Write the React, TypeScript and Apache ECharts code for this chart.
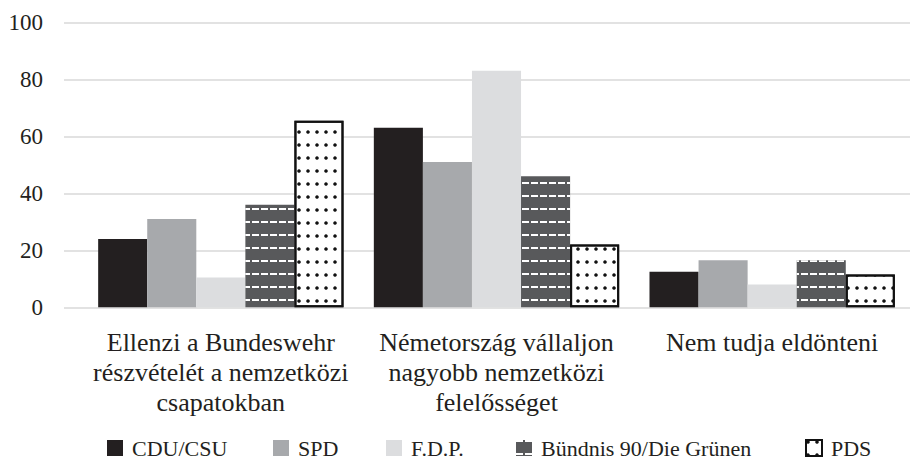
import React, { useEffect, useRef } from "react";
import * as echarts from "echarts";

const categories = [
  "Ellenzi a Bundeswehr\nrészvételét a nemzetközi\ncsapatokban",
  "Németország vállaljon\nnagyobb nemzetközi\nfelelősséget",
  "Nem tudja eldönteni",
];
const cduCsu = [24, 63, 12.5];
const spd = [31, 51, 16.5];
const fdp = [10.5, 83, 8];
const grunen = [36, 46, 16.5];
const pds = [65.5, 22, 11.5];
const yTicks = [0, 20, 40, 60, 80, 100];
const seriesNames = ["CDU/CSU", "SPD", "F.D.P.", "Bündnis 90/Die Grünen", "PDS"];

const FONT = "'Liberation Serif', 'Times New Roman', serif";
const TEXT = "#231f20";

export default function App() {
  const ref = useRef<HTMLDivElement>(null);
  useEffect(() => {
    if (!ref.current) return;
    document.body.style.margin = "0";
    document.body.style.overflow = "hidden";
    const chart = echarts.init(ref.current, null, { renderer: "svg" });
    const top = 22.4;
    const bottom = 462 - 307.3;
    const grunenDecal = {
      symbol: "rect",
      color: "#ffffff",
      dashArrayX: [7, 2],
      dashArrayY: [2, 11],
      symbolSize: 1,
      rotation: 0,
    };
    const pdsDecal = {
      symbol: "circle",
      color: "#111111",
      dashArrayX: [4, 5],
      dashArrayY: [4, 9],
      symbolSize: 0.9,
      rotation: 0,
    };
    const legendX = [107, 273, 386, 516, 805];
    const option: any = {
      animation: false,
      backgroundColor: "#ffffff",
      grid: [
        { left: 64, right: 10, top, bottom },
        { left: 83, right: 10, top, bottom },
      ],
      xAxis: [
        { gridIndex: 0, type: "value", min: 0, max: 1, show: false },
        {
          gridIndex: 1,
          type: "category",
          data: categories,
          axisLine: { show: false },
          axisTick: { show: false },
          axisLabel: {
            interval: 0,
            margin: 20,
            lineHeight: 30,
            fontSize: 26,
            fontFamily: FONT,
            color: TEXT,
            align: "center",
          },
        },
      ],
      yAxis: [
        {
          gridIndex: 0,
          type: "value",
          min: yTicks[0],
          max: yTicks[yTicks.length - 1],
          interval: 20,
          axisLine: { show: false },
          axisTick: { show: false },
          axisLabel: { margin: 21, fontSize: 23, fontFamily: FONT, color: TEXT },
          splitLine: { lineStyle: { color: "#d9d9d9", width: 1.5 } },
        },
        {
          gridIndex: 1,
          type: "value",
          min: yTicks[0],
          max: yTicks[yTicks.length - 1],
          show: false,
          splitLine: { show: false },
        },
      ],
      legend: seriesNames.map((n, i) => ({
        data: [n],
        left: legendX[i],
        top: 437,
        icon: "rect",
        itemWidth: 16,
        itemHeight: 16,
        itemGap: 0,
        padding: 0,
        selectedMode: false,
        textStyle: {
          fontSize: 22,
          fontFamily: FONT,
          color: TEXT,
          padding: [0, 0, 0, 4],
        },
      })),
      series: [
        {
          name: seriesNames[0],
          type: "bar",
          xAxisIndex: 1,
          yAxisIndex: 1,
          data: cduCsu,
          barGap: "0%",
          barCategoryGap: "11%",
          itemStyle: { color: "#231f20" },
        },
        {
          name: seriesNames[1],
          type: "bar",
          xAxisIndex: 1,
          yAxisIndex: 1,
          data: spd,
          itemStyle: { color: "#a7a9ac" },
        },
        {
          name: seriesNames[2],
          type: "bar",
          xAxisIndex: 1,
          yAxisIndex: 1,
          data: fdp,
          itemStyle: { color: "#dcdddf" },
        },
        {
          name: seriesNames[3],
          type: "bar",
          xAxisIndex: 1,
          yAxisIndex: 1,
          data: grunen,
          itemStyle: { color: "#58595b", decal: grunenDecal },
        },
        {
          name: seriesNames[4],
          type: "bar",
          xAxisIndex: 1,
          yAxisIndex: 1,
          data: pds,
          itemStyle: {
            color: "#ffffff",
            borderColor: "#111111",
            borderWidth: 2,
            decal: pdsDecal,
          },
        },
      ],
    };
    chart.setOption(option);
    return () => chart.dispose();
  }, []);
  return (
    <div
      ref={ref}
      style={{ position: "absolute", left: 0, top: 0, width: 920, height: 462 }}
    />
  );
}
